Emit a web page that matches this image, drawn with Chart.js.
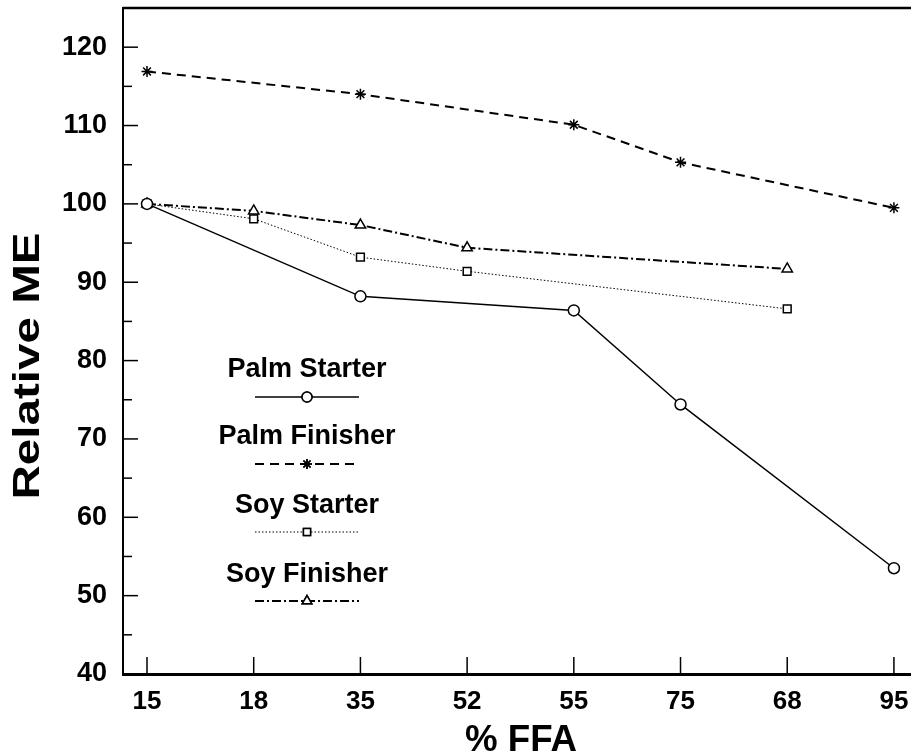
<!DOCTYPE html>
<html>
<head>
<meta charset="utf-8">
<script src="https://cdn.jsdelivr.net/npm/chart.js@4/dist/chart.umd.min.js"></script>
<style>
  html, body { margin: 0; padding: 0; background: #fff; }
  #wrap { width: 911px; height: 756px; }
</style>
</head>
<body>
<div id="wrap"><canvas id="meChart" width="911" height="756"></canvas></div>
<script>
// x categories (% FFA), in the order they appear on the axis
const ffaLabels = ["15", "18", "35", "52", "55", "75", "68", "95"];

// relative ME values, null where a series has no point
const palmStarter  = [100, null, 88.2, null, 86.4, 74.4, null, 53.5];
const palmFinisher = [116.9, null, 114, null, 110.1, 105.3, null, 99.5];
const soyStarter   = [100, 98.1, 93.2, 91.4, null, null, 86.6, null];
const soyFinisher  = [100, 99.1, 97.3, 94.4, null, null, 91.7, null];

const seriesNames = ["Palm Starter", "Palm Finisher", "Soy Starter", "Soy Finisher"];

const FONT = '"Liberation Sans", Arial, Helvetica, sans-serif';

function toPoints(arr) {
  return arr.map((v, i) => ({ x: i, y: v }));
}

function makeSet(name, arr, style, dash, width, radius) {
  return {
    label: name,
    data: toPoints(arr),
    borderColor: "#000",
    borderWidth: width,
    borderDash: dash,
    pointStyle: style,
    pointRadius: radius,
    pointBorderWidth: 1.5,
    pointBorderColor: "#000",
    pointBackgroundColor: "#fff",
    spanGaps: true,
    tension: 0,
    fill: false
  };
}

// draws inward ticks, top frame line, the in-plot legend and axis titles
const paperStyle = {
  id: "paperStyle",
  afterDraw(chart) {
    const ctx = chart.ctx;
    const area = chart.chartArea;
    const xs = chart.scales.x, ys = chart.scales.y;
    ctx.save();
    ctx.strokeStyle = "#000";

    // top line
    ctx.lineWidth = 2.5;
    ctx.beginPath();
    ctx.moveTo(area.left, area.top);
    ctx.lineTo(area.right, area.top);
    ctx.stroke();

    // y ticks (major every 10, minor every 5)
    ctx.lineWidth = 1.5;
    ys.ticks.forEach(t => {
      if (t.value <= ys.min || t.value >= ys.max) return;
      const y = ys.getPixelForValue(t.value);
      const len = t.value % 10 === 0 ? 15 : 9;
      ctx.beginPath();
      ctx.moveTo(area.left, y);
      ctx.lineTo(area.left + len, y);
      ctx.stroke();
    });

    // x ticks
    ffaLabels.forEach((lab, i) => {
      const x = xs.getPixelForValue(i);
      ctx.beginPath();
      ctx.moveTo(x, area.bottom);
      ctx.lineTo(x, area.bottom - 17);
      ctx.stroke();
    });

    // legend inside the plot
    const legX = 307, legY = [370, 437, 506, 575], lineY = [397, 464, 532, 601];
    chart.data.datasets.forEach((ds, i) => {
      ctx.fillStyle = "#000";
      ctx.font = "bold 27px " + FONT;
      ctx.textAlign = "center";
      ctx.textBaseline = "middle";
      ctx.fillText(ds.label, legX, legY[i]);

      const ly = lineY[i];
      ctx.lineWidth = ds.borderWidth;
      ctx.setLineDash(ds.borderDash || []);
      ctx.beginPath();
      ctx.moveTo(legX - 52, ly);
      ctx.lineTo(legX + 52, ly);
      ctx.stroke();
      ctx.setLineDash([]);
      if (Chart.helpers && Chart.helpers.drawPoint) {
        ctx.fillStyle = "#fff";
        ctx.lineWidth = 1.5;
        Chart.helpers.drawPoint(ctx, {
          pointStyle: ds.pointStyle, radius: ds.pointRadius - 0.5,
          rotation: 0, borderWidth: 1.5
        }, legX, ly);
        if (ds.pointStyle !== "star") ctx.fill();
        ctx.stroke();
      }
    });

    // axis titles, stretched a bit to the wide print lettering
    ctx.fillStyle = "#000";
    ctx.textAlign = "center";
    ctx.textBaseline = "middle";

    ctx.save();
    ctx.translate(29, 366);
    ctx.rotate(-Math.PI / 2);
    ctx.font = "bold 37px " + FONT;
    let w = ctx.measureText("Relative ME").width;
    ctx.scale(267 / w, 1);
    ctx.fillText("Relative ME", 0, 0);
    ctx.restore();

    ctx.save();
    ctx.translate(521, 741);
    ctx.font = "bold 36px " + FONT;
    w = ctx.measureText("% FFA").width;
    ctx.scale(112 / w, 1);
    ctx.fillText("% FFA", 0, 0);
    ctx.restore();

    ctx.restore();
  }
};

const ctx = document.getElementById("meChart").getContext("2d");
new Chart(ctx, {
  type: "line",
  data: {
    datasets: [
      makeSet(seriesNames[0], palmStarter, "circle", [], 1.5, 5.5),
      makeSet(seriesNames[1], palmFinisher, "star", [9, 6], 2, 5.5),
      makeSet(seriesNames[2], soyStarter, "rect", [1.5, 2], 1, 5.5),
      makeSet(seriesNames[3], soyFinisher, "triangle", [9, 3, 2, 3], 2, 6)
    ]
  },
  options: {
    responsive: false,
    animation: false,
    layout: { autoPadding: false, padding: { top: 8, right: 0, bottom: 0, left: 0 } },
    plugins: {
      legend: { display: false },
      tooltip: { enabled: false }
    },
    scales: {
      x: {
        type: "linear",
        min: -0.225,
        max: 7.16,
        afterFit: s => {
          s.height = 82;
          s.paddingLeft = 0; s.paddingRight = 0;
        },
        grid: { display: false, drawTicks: false },
        border: { display: true, color: "#000", width: 3 },
        ticks: {
          stepSize: 1,
          includeBounds: false,
          autoSkip: false,
          maxRotation: 0,
          padding: 12,
          color: "#000",
          font: { family: FONT, size: 26, weight: "bold" },
          callback: v => (Number.isInteger(v) && ffaLabels[v] !== undefined) ? ffaLabels[v] : ""
        }
      },
      y: {
        min: 40,
        max: 125,
        afterFit: s => {
          s.width = 123;
          s.paddingTop = 0; s.paddingBottom = 0;
        },
        grid: { display: false, drawTicks: false },
        border: { display: true, color: "#000", width: 2 },
        ticks: {
          stepSize: 5,
          padding: 16,
          color: "#000",
          font: { family: FONT, size: 27, weight: "bold" },
          callback: v => (v % 10 === 0 ? String(v) : "")
        }
      }
    }
  },
  plugins: [paperStyle]
});
</script>
</body>
</html>
